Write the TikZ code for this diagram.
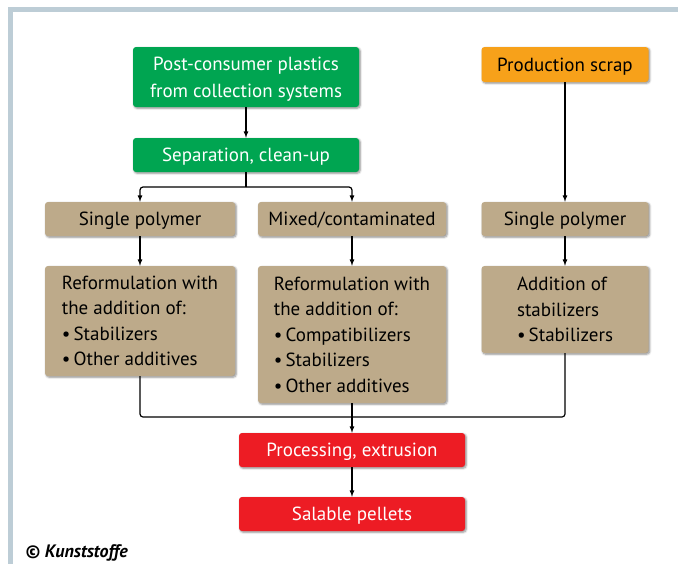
\documentclass[tikz,border=0pt]{standalone}
\usepackage{fontspec}
\setmainfont{PT Sans}
\usepackage{tikz}
\usetikzlibrary{arrows, shadows.blur}

\definecolor{kgreen}{RGB}{0,165,81}
\definecolor{korange}{RGB}{247,161,26}
\definecolor{ktan}{RGB}{189,170,138}
\definecolor{kred}{RGB}{237,28,36}
\definecolor{kframe}{RGB}{189,205,214}

\tikzset{
    box/.style={rounded corners=3pt, inner sep=4pt, align=center,
        font=\fontsize{19}{25.5}\selectfont,
        blur shadow={shadow xshift=1.2pt, shadow yshift=-1.2pt, shadow blur steps=6, shadow opacity=45}},
    oneline/.style={text height=16.5pt, text depth=3.2pt},
    greenbox/.style={box, fill=kgreen, text=white},
    orangebox/.style={box, fill=korange, text=black},
    tanbox/.style={box, fill=ktan, text=black},
    redbox/.style={box, fill=kred, text=white},
    flow/.style={line width=1.2pt, rounded corners=3pt},
}

\begin{document}
\begin{tikzpicture}[x=1pt, y=-1pt]
    \useasboundingbox (0,0) rectangle (678,563);
    \begin{scope}
        \clip (0,0) rectangle (678,563);
        \draw[kframe, line width=5pt] (10,9.5) rectangle (720,620);
    \end{scope}

    % sources
    \node[greenbox, minimum width=226pt, minimum height=60pt] (post) at (246,77)
        {\rule{0pt}{18pt}Post-consumer plastics\\[1.5pt]from collection systems};
    \node[greenbox, oneline, minimum width=226pt, minimum height=34pt] (sep) at (246,155)
        {Separation, clean-up};
    \node[orangebox, oneline, minimum width=167pt, minimum height=35pt] (scrap) at (565,64.5)
        {Production scrap};

    % sorted streams
    \node[tanbox, oneline, minimum width=190pt, minimum height=34pt] (singleL) at (140,219) {Single polymer};
    \node[tanbox, oneline, minimum width=188pt, minimum height=34pt] (mixed) at (352,219) {Mixed/contaminated};
    \node[tanbox, oneline, minimum width=167pt, minimum height=34pt] (singleR) at (565,219) {Single polymer};

    \node[tanbox, align=left, minimum width=190pt, minimum height=110pt] (reformL) at (140,321)
        {Reformulation with\\the addition of:\\\textbullet\,Stabilizers\\\textbullet\,Other additives};
    \node[tanbox, align=left, minimum width=188pt, minimum height=137pt] (reformM) at (352,334.5)
        {Reformulation with\\the addition of:\\\textbullet\,Compatibilizers\\\textbullet\,Stabilizers\\\textbullet\,Other additives};
    \node[tanbox, align=left, minimum width=167pt, minimum height=87pt] (addit) at (565,309.5)
        {Addition of\\stabilizers\\\textbullet\,Stabilizers};

    % output
    \node[redbox, oneline, minimum width=226pt, minimum height=34pt] (proc) at (352,450) {Processing, extrusion};
    \node[redbox, oneline, minimum width=226pt, minimum height=34pt] (pellets) at (352,514) {Salable pellets};

    \node[anchor=base west, inner sep=0pt, font=\fontsize{18}{20}\selectfont\bfseries\itshape] (copy) at (25,557)
        {© Kunststoffe};

    % connectors
    \coordinate (split) at (246,187);
    \coordinate (merge) at (352,417);
    \draw[flow, -latex] (post) -- (sep);
    \draw[flow] (sep.south) -- (split);
    \draw[flow, -latex] (split) -| (singleL.north);
    \draw[flow, -latex] (split) -| (mixed.north);
    \draw[flow, -latex] (scrap) -- (singleR);
    \draw[flow, -latex] (singleL) -- (reformL);
    \draw[flow, -latex] (mixed) -- (reformM);
    \draw[flow, -latex] (singleR) -- (addit);
    \draw[flow] (reformL.south) |- (merge) -| (addit.south);
    \draw[flow, -latex] (reformM.south) -- (proc.north);
    \draw[flow, -latex] (proc) -- (pellets);
\end{tikzpicture}
\end{document}
